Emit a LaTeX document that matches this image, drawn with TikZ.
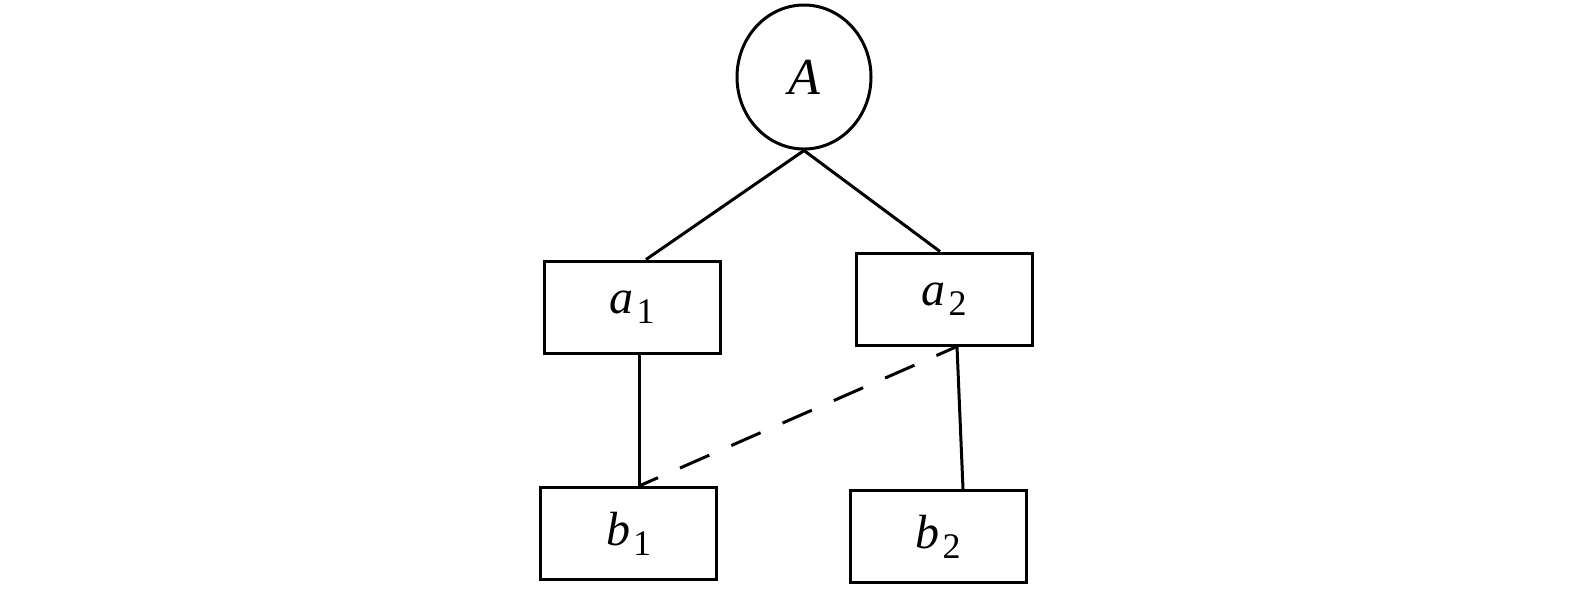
\documentclass[tikz,border=0pt]{standalone}
\usepackage{fontspec}
\setmainfont{Liberation Serif}
\usetikzlibrary{shapes.geometric}
\newcommand\mylbl[2]{\textit{#1}\kern1.5pt\raisebox{-5pt}{\fontsize{18}{18}\selectfont #2}}
\tikzset{
  box/.style={draw, line width=1.5pt, minimum width=88pt, minimum height=46pt, inner sep=0pt, font=\fontsize{24}{24}\selectfont},
  circ/.style={draw, ellipse, line width=1.5pt, minimum width=67pt, minimum height=72pt, inner sep=0pt, font=\fontsize{26}{26}\selectfont\itshape},
  conn/.style={line width=1.5pt},
  dconn/.style={line width=1.5pt, dash pattern=on 16pt off 12pt, dash phase=4.75pt}
}
\begin{document}
\begin{tikzpicture}[x=0.5pt,y=-0.5pt]
\useasboundingbox (0,0) rectangle (1575,591);
\node[circ] (A) at (804,77) {A};
\node[box] (a1) at (632,307) {\mylbl{a}{1}};
\node[box] (a2) at (944,299) {\mylbl{a}{2}};
\node[box] (b1) at (628.5,533.5) {\mylbl{b}{1}};
\node[box] (b2) at (938,536.5) {\mylbl{b}{2}};
\draw[conn] (A.south) -- ([xshift=7pt]a1.north);
\draw[conn] (A.south) -- ([xshift=-2pt]a2.north);
\draw[conn] ([xshift=3.5pt]a1.south) -- ([xshift=5.25pt]b1.north);
\draw[conn] ([xshift=6.5pt]a2.south) -- ([xshift=12.5pt]b2.north);
\draw[dconn] ([xshift=6.5pt]a2.south) -- ([xshift=5.25pt]b1.north);
\end{tikzpicture}
\end{document}
